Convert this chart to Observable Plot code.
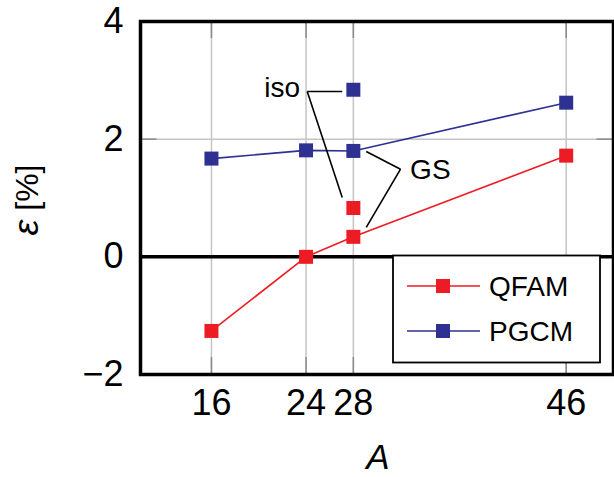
<!DOCTYPE html>
<html><head><meta charset="utf-8">
<script src="https://cdn.jsdelivr.net/npm/d3@7"></script>
<script src="https://cdn.jsdelivr.net/npm/@observablehq/plot@0.6"></script>
<style>html,body{margin:0;padding:0;background:#fff} svg{display:block}</style>
</head><body><div id="chart"></div>
<script>
// ---- data ----
const massNumbers = [16, 24, 28, 46];
const qfamGS = [-1.26, 0.0, 0.34, 1.72];
const pgcmGS = [1.67, 1.81, 1.80, 2.62];
const isoA = [28];
const qfamIso = [0.83];
const pgcmIso = [2.84];
const xTicks = [16, 24, 28, 46];
const yTicks = [-2, 0, 2, 4];
const seriesNames = ["QFAM", "PGCM"];
const seriesColors = ["#ed1c24", "#2e3192"];
const annotationLabels = ["iso", "GS"];

// ---- derived tables ----
const qfam = massNumbers.map((a, i) => ({A: a, e: qfamGS[i]}));
const pgcm = massNumbers.map((a, i) => ({A: a, e: pgcmGS[i]}));
const qfamIsoPts = isoA.map((a, i) => ({A: a, e: qfamIso[i]}));
const pgcmIsoPts = isoA.map((a, i) => ({A: a, e: pgcmIso[i]}));

// annotation leader lines (data units)
const isoLinks = [
  {x1: 24.1, y1: 2.81, x2: 27.06, y2: 2.81},
  {x1: 24.1, y1: 2.81, x2: 27.06, y2: 1.01}
];
const gsLinks = [
  {x1: 31.99, y1: 1.49, x2: 29.09, y2: 1.79},
  {x1: 31.99, y1: 1.49, x2: 29.09, y2: 0.50}
];
const isoLabel = [{A: 23.5, e: 2.87, t: annotationLabels[0]}];
const gsLabel = [{A: 32.8, e: 1.48, t: annotationLabels[1]}];

const font = "'Liberation Sans', Arial, Helvetica, sans-serif";
const sq = 14 / Math.sqrt(Math.PI);
const tickGray = "#8a8a8a";

const chart = Plot.plot({
  width: 614,
  height: 477,
  marginLeft: 140,
  marginRight: 1,
  marginTop: 21,
  marginBottom: 103,
  style: {fontFamily: font, background: "#fff", color: "#000"},
  x: {domain: [10, 50]},
  y: {domain: [-2, 4]},
  marks: [
    Plot.gridX(xTicks, {stroke: "#c4c4c4", strokeOpacity: 1, strokeWidth: 1.5}),
    Plot.gridY(yTicks, {stroke: "#c4c4c4", strokeOpacity: 1, strokeWidth: 1.5}),
    // inner tick marks (pgfplots style)
    Plot.ruleX(xTicks, {y1: -2, y2: -1.71, stroke: tickGray, strokeWidth: 1.5}),
    Plot.ruleX(xTicks, {y1: 4, y2: 3.71, stroke: tickGray, strokeWidth: 1.5}),
    Plot.ruleY(yTicks, {x1: 10, x2: 11.4, stroke: tickGray, strokeWidth: 1.5}),
    Plot.ruleY(yTicks, {x1: 50, x2: 48.6, stroke: tickGray, strokeWidth: 1.5}),
    Plot.ruleY([0], {stroke: "#000", strokeWidth: 3.5}),
    Plot.frame({stroke: "#000", strokeWidth: 3.5}),
    Plot.axisX({ticks: xTicks, tickSize: 0, tickPadding: 15, fontSize: 36, label: null, tickFormat: d => String(d)}),
    Plot.axisY({ticks: yTicks, tickSize: 0, tickPadding: 17, fontSize: 36, label: null,
      tickFormat: d => d < 0 ? "\u2212" + Math.abs(d) : String(d)}),
    Plot.line(qfam, {x: "A", y: "e", stroke: seriesColors[0], strokeWidth: 1.6}),
    Plot.line(pgcm, {x: "A", y: "e", stroke: seriesColors[1], strokeWidth: 1.6}),
    Plot.dot(qfam, {x: "A", y: "e", symbol: "square", r: sq, fill: seriesColors[0], stroke: "none"}),
    Plot.dot(pgcm, {x: "A", y: "e", symbol: "square", r: sq, fill: seriesColors[1], stroke: "none"}),
    Plot.dot(qfamIsoPts, {x: "A", y: "e", symbol: "square", r: sq, fill: seriesColors[0], stroke: "none"}),
    Plot.dot(pgcmIsoPts, {x: "A", y: "e", symbol: "square", r: sq, fill: seriesColors[1], stroke: "none"}),
    Plot.link(isoLinks, {x1: "x1", y1: "y1", x2: "x2", y2: "y2", stroke: "#000", strokeWidth: 1.6}),
    Plot.link(gsLinks, {x1: "x1", y1: "y1", x2: "x2", y2: "y2", stroke: "#000", strokeWidth: 1.6}),
    Plot.text(isoLabel, {x: "A", y: "e", text: "t", textAnchor: "end", fontSize: 28, fill: "#000"}),
    Plot.text(gsLabel, {x: "A", y: "e", text: "t", textAnchor: "start", fontSize: 28, fill: "#000"})
  ]
});

const svg = d3.select(chart);

// axis labels
const yl = svg.append("text")
  .attr("transform", "translate(38,200) rotate(-90)")
  .attr("text-anchor", "middle")
  .attr("font-family", font)
  .attr("font-size", 32)
  .attr("fill", "#000");
yl.append("tspan").attr("font-style", "italic").attr("font-size", 36).text("\u03b5");
yl.append("tspan").text(" [%]");

svg.append("text")
  .attr("x", 378).attr("y", 469)
  .attr("text-anchor", "middle")
  .attr("font-family", font)
  .attr("font-style", "italic")
  .attr("font-size", 35)
  .attr("fill", "#000")
  .text("A");

// legend
const lg = svg.append("g");
lg.append("rect").attr("x", 393).attr("y", 255.5).attr("width", 207).attr("height", 107)
  .attr("fill", "#fff").attr("stroke", "#000").attr("stroke-width", 1.8);
seriesNames.forEach((name, i) => {
  const cy = 286 + i * 45;
  lg.append("line").attr("x1", 407).attr("x2", 480).attr("y1", cy).attr("y2", cy)
    .attr("stroke", seriesColors[i]).attr("stroke-width", 1.6);
  lg.append("rect").attr("x", 436).attr("y", cy - 7).attr("width", 14).attr("height", 14)
    .attr("fill", seriesColors[i]);
  lg.append("text").attr("x", 489).attr("y", cy).attr("dy", "0.36em")
    .attr("text-anchor", "start")
    .attr("font-family", font).attr("font-size", 28).attr("fill", "#000").text(name);
});

document.getElementById("chart").appendChild(chart);
</script>
</body></html>
